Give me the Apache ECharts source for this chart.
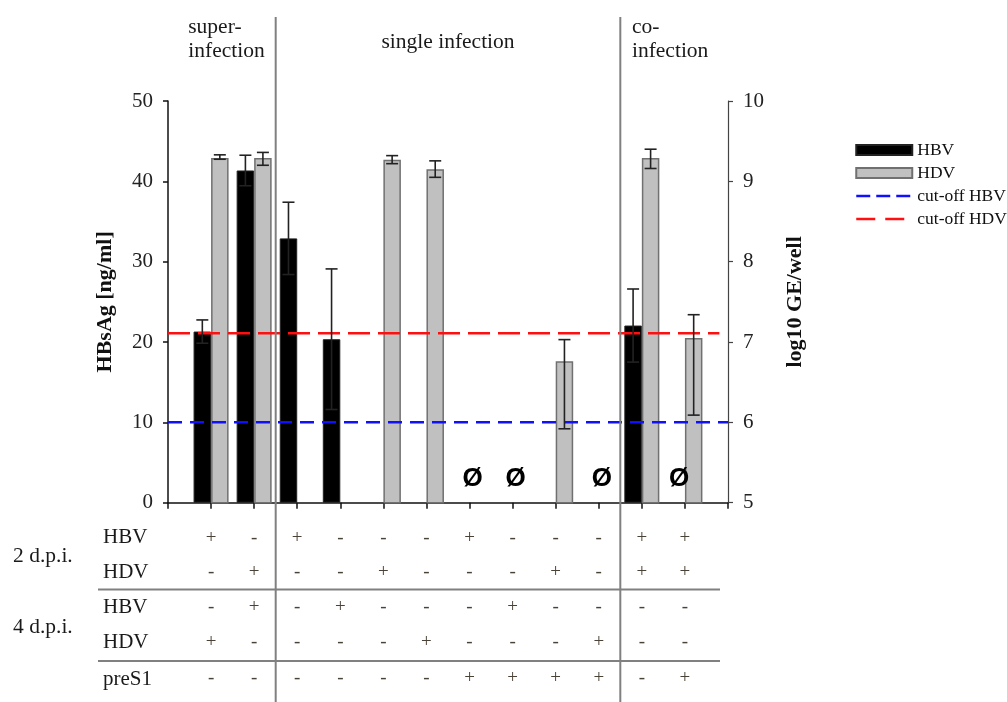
<!DOCTYPE html>
<html><head><meta charset="utf-8">
<script src="https://cdn.jsdelivr.net/npm/echarts@6/dist/echarts.min.js"></script>
<style>html,body{margin:0;padding:0;background:#fff}#c{width:1007px;height:702px}</style>
</head><body><div id="c"></div>
<script>
// ---------- data ----------
const groups    = [1, 2, 3, 4, 5, 6, 7, 8, 9, 10, 11, 12];
// HBsAg [ng/ml] (left axis)
const hbv       = [21.3, 41.35, 32.9, 20.35, null, null, null, null, null, null, 22.05, null];
const hbvErrLo  = [19.85, 39.45, 28.4, 11.6, null, null, null, null, null, null, 17.5, null];
const hbvErrHi  = [22.75, 43.25, 37.4, 29.1, null, null, null, null, null, null, 26.6, null];
// HDV log10 GE/well (right axis)
const hdv       = [9.29, 9.29, null, null, 9.27, 9.15, null, null, 6.76, null, 9.29, 7.05];
const hdvErrLo  = [9.275, 9.20, null, null, 9.22, 9.05, null, null, 5.92, null, 9.16, 6.09];
const hdvErrHi  = [9.33, 9.36, null, null, 9.32, 9.255, null, null, 7.03, null, 9.40, 7.34];
// not detected markers (group, slot: 0 = centre, -1 = HBV slot)
const ndGroups  = [7, 8, 10, 12];
const ndSlot    = [0, 0, 0, -1];
const cutoffHBV = 10;     // ng/ml
const cutoffHDV = 7.11;   // log10 GE/well
const leftTicks  = [0, 10, 20, 30, 40, 50];
const rightTicks = [5, 6, 7, 8, 9, 10];
// table
const rowLabels = ['HBV', 'HDV', 'HBV', 'HDV', 'preS1'];
const signs = [
  ['+','-','+','-','-','-','+','-','-','-','+','+'],
  ['-','+','-','-','+','-','-','-','+','-','+','+'],
  ['-','+','-','+','-','-','-','+','-','-','-','-'],
  ['+','-','-','-','-','+','-','-','-','+','-','-'],
  ['-','-','-','-','-','-','+','+','+','+','-','+']
];
const dpiLabels = ['2 d.p.i.', '4 d.p.i.'];
const sectionTexts  = ['super-\ninfection', 'single infection', 'co-\ninfection'];
const sectionAnchor = [0.47, 6.5, 10.77];
const dividers = [2.5, 10.5];

// ---------- layout/style ----------
const SERIF = '"Liberation Serif", "DejaVu Serif", serif';
const BAR_W = 17.5;
const ROW_OFF = [35, 69.5, 104.5, 139.5, 175];

const pairs = (xs, ys) => xs.map((x, i) => [x, ys[i]]);
const errData = (lo, hi) => groups.map((g, i) => [g, lo[i], hi[i]]).filter(d => d[1] != null);

function errRender(side) {
  return function (params, api) {
    const g = api.value(0);
    const lo = api.coord([g, api.value(1)]);
    const hi = api.coord([g, api.value(2)]);
    const x = lo[0] + side * BAR_W / 2;
    const cap = 6;
    const st = {stroke: '#222', lineWidth: 1.6};
    return {type: 'group', children: [
      {type: 'line', shape: {x1: x, y1: lo[1], x2: x, y2: hi[1]}, style: st},
      {type: 'line', shape: {x1: x - cap, y1: lo[1], x2: x + cap, y2: lo[1]}, style: st},
      {type: 'line', shape: {x1: x - cap, y1: hi[1], x2: x + cap, y2: hi[1]}, style: st}
    ]};
  };
}

const tableData = [];
signs.forEach((row, r) => row.forEach((s, i) => tableData.push([groups[i], r])));

const chart = echarts.init(document.getElementById('c'), null, {renderer: 'canvas'});
chart.setOption({
  animation: false,
  backgroundColor: '#fff',
  textStyle: {fontFamily: SERIF},
  grid: {left: 168, top: 101, width: 560, height: 401.7},
  legend: {
    orient: 'vertical', left: 850, top: 136, itemWidth: 56, itemHeight: 10, itemGap: 5,
    textStyle: {fontFamily: SERIF, fontSize: 17.5, color: '#111'},
    data: [
      {name: 'HBV', icon: 'rect'},
      {name: 'HDV', icon: 'rect'},
      {name: 'cut-off HBV', itemStyle: {opacity: 0}, lineStyle: {type: [14, 6], width: 2.5}},
      {name: 'cut-off HDV', itemStyle: {opacity: 0}, lineStyle: {type: [19, 10], width: 2.5}}
    ]
  },
  xAxis: {
    type: 'value', min: 0, max: 13, interval: 1,
    axisLine: {show: true, lineStyle: {color: '#111', width: 1.5}},
    axisTick: {show: true, length: 6, lineStyle: {color: '#111', width: 1.5}},
    axisLabel: {show: false}, splitLine: {show: false}
  },
  yAxis: [{
    type: 'value', min: leftTicks[0], max: leftTicks[leftTicks.length - 1], interval: 10,
    name: 'HBsAg [ng/ml]', nameLocation: 'middle', nameGap: 52,
    nameTextStyle: {fontFamily: SERIF, fontSize: 22, fontWeight: 'bold', color: '#111'},
    axisLine: {show: true, lineStyle: {color: '#111', width: 1.5}},
    axisTick: {show: true, length: 5, lineStyle: {color: '#111', width: 1.5}},
    axisLabel: {fontFamily: SERIF, fontSize: 21, color: '#222', margin: 15},
    splitLine: {show: false}
  }, {
    type: 'value', min: rightTicks[0], max: rightTicks[rightTicks.length - 1], interval: 1,
    name: 'log10 GE/well', nameLocation: 'middle', nameGap: 56, nameRotate: 90,
    nameTextStyle: {fontFamily: SERIF, fontSize: 22, fontWeight: 'bold', color: '#111'},
    axisLine: {show: true, lineStyle: {color: '#444', width: 1.2}},
    axisTick: {show: true, length: 5, lineStyle: {color: '#444', width: 1.2}},
    axisLabel: {fontFamily: SERIF, fontSize: 21, color: '#222', margin: 15},
    splitLine: {show: false}
  }],
  graphic: [
    {type: 'line', shape: {x1: 98, y1: 589.5, x2: 720, y2: 589.5}, style: {stroke: '#808080', lineWidth: 2}},
    {type: 'line', shape: {x1: 98, y1: 661, x2: 720, y2: 661}, style: {stroke: '#808080', lineWidth: 2}},
    ...rowLabels.map((t, r) => ({type: 'text', x: 103, y: 502.7 + ROW_OFF[r] + (r === 4 ? 2 : 0),
      style: {text: t, font: '21px ' + SERIF, fill: '#1a1a1a', verticalAlign: 'middle'}})),
    ...dpiLabels.map((t, k) => ({type: 'text', x: 13, y: 556 + k * 71,
      style: {text: t, font: '21.5px ' + SERIF, fill: '#1a1a1a', verticalAlign: 'middle'}}))
  ],
  series: [
    {name: 'HBV', type: 'bar', yAxisIndex: 0, barWidth: BAR_W, barGap: '0%',
     itemStyle: {color: '#000', borderColor: '#222', borderWidth: 1},
     data: pairs(groups, hbv).filter(d => d[1] != null)},
    {name: 'HDV', type: 'bar', yAxisIndex: 1, barWidth: BAR_W, barGap: '0%', clip: true,
     itemStyle: {color: '#c0c0c0', borderColor: '#707070', borderWidth: 1.5},
     data: pairs(groups, hdv).filter(d => d[1] != null)},
    {name: 'cut-off HBV', type: 'line', yAxisIndex: 0, symbol: 'none', z: 5,
     lineStyle: {color: '#1010ff', width: 2.5, type: [14, 8]},
     itemStyle: {color: '#1010ff'},
     data: [[0, cutoffHBV], [13, cutoffHBV]]},
    {name: 'cut-off HDV', type: 'line', yAxisIndex: 1, symbol: 'none', z: 5,
     lineStyle: {color: '#ff1010', width: 2.5, type: [22, 8]},
     itemStyle: {color: '#ff1010'},
     data: [[0, cutoffHDV], [12.8, cutoffHDV]]},
    {type: 'custom', yAxisIndex: 0, renderItem: errRender(-1), z: 6,
     encode: {x: 0, y: [1, 2]}, data: errData(hbvErrLo, hbvErrHi)},
    {type: 'custom', yAxisIndex: 1, renderItem: errRender(1), z: 6,
     encode: {x: 0, y: [1, 2]}, data: errData(hdvErrLo, hdvErrHi)},
    {type: 'custom', yAxisIndex: 0, z: 7,
     renderItem: function (params, api) {
       const i = params.dataIndex;
       const p = api.coord([api.value(0), 3]);
       return {type: 'text', style: {text: 'Ø', x: p[0] + ndSlot[i] * BAR_W / 2 + 3, y: p[1],
         align: 'center', verticalAlign: 'middle', font: 'bold 26px "Liberation Sans", Arial, sans-serif', fill: '#000'}};
     },
     data: ndGroups.map(g => [g, 3])},
    {type: 'custom', yAxisIndex: 0, z: 8,
     renderItem: function (params, api) {
       const g = api.value(0), r = api.value(1);
       const p = api.coord([g, 0]);
       return {type: 'text', style: {text: signs[r][g - 1], x: p[0], y: p[1] + ROW_OFF[r],
         align: 'center', verticalAlign: 'middle', font: '19px ' + SERIF, fill: '#4a4236'}};
     },
     data: tableData},
    {type: 'custom', yAxisIndex: 0, z: 9,
     renderItem: function (params, api) {
       const p = api.coord([api.value(0), 0]);
       return {type: 'line', shape: {x1: p[0], y1: 17, x2: p[0], y2: 702},
         style: {stroke: '#808080', lineWidth: 2}};
     },
     data: dividers.map(d => [d, 0])},
    {type: 'custom', yAxisIndex: 0, z: 9,
     renderItem: function (params, api) {
       const t = sectionTexts[params.dataIndex];
       const p = api.coord([api.value(0), 0]);
       const centred = t.indexOf('\n') < 0;
       return {type: 'text', style: {text: t, x: p[0], y: centred ? 42 : 15,
         align: centred ? 'center' : 'left', verticalAlign: centred ? 'middle' : 'top',
         font: '21.5px ' + SERIF, lineHeight: 24, fill: '#1a1a1a'}};
     },
     data: sectionAnchor.map(a => [a, 0])}
  ]
});
</script>
</body></html>
